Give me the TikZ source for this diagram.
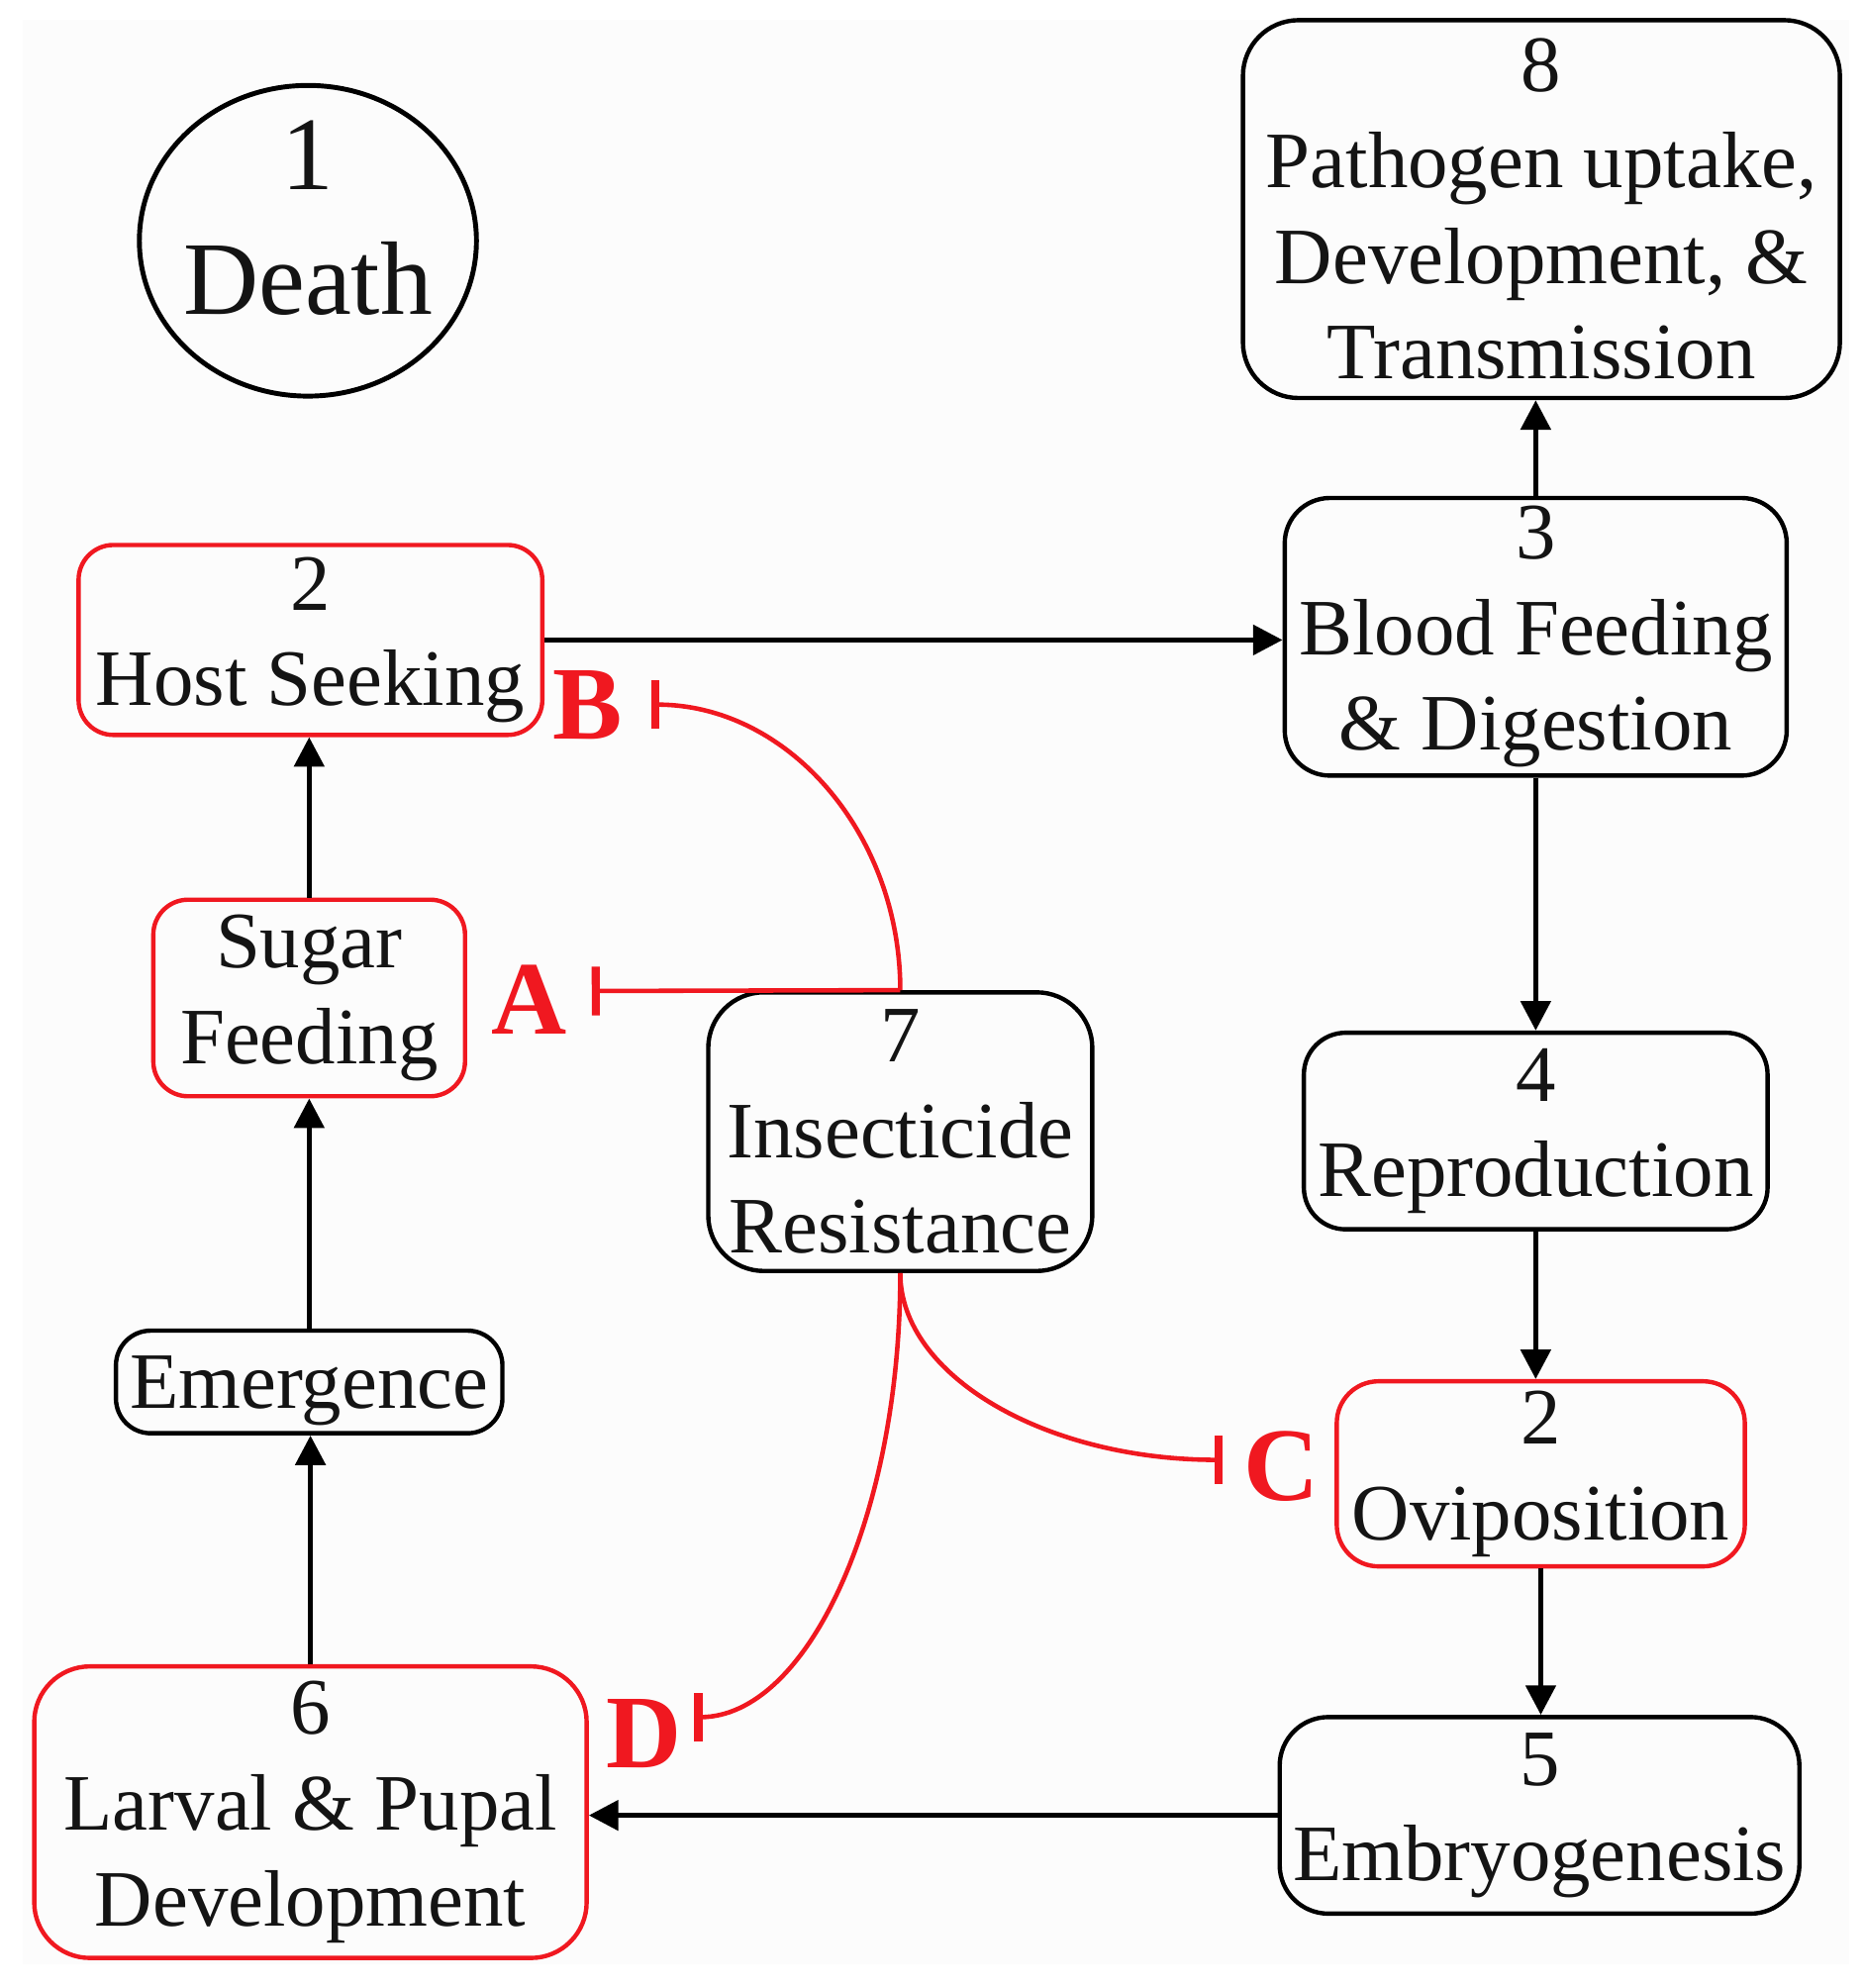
\documentclass[tikz,border=0pt]{standalone}
\usepackage{fontspec}
\setmainfont{Liberation Serif}
\usetikzlibrary{arrows.meta,shapes.geometric}
\definecolor{redc}{RGB}{240,24,32}
\definecolor{bgc}{RGB}{252,252,252}
\definecolor{txtc}{RGB}{20,20,20}
\newcommand\mainsz{\fontsize{23}{27.5}\selectfont}
\tikzset{
  box/.style={draw=black, line width=1.25pt, rounded corners=12pt, align=center, inner sep=0pt, font=\mainsz, text=txtc},
  redbox/.style={box, draw=redc, line width=1.25pt},
  flow/.style={line width=1.55pt, -{Triangle[length=8.5pt,width=8.5pt]}},
  inhib/.style={draw=redc, line width=1.3pt, -{Bar[width=14pt,line width=2.3pt]}},
  lab/.style={text=redc, inner sep=0pt, font=\bfseries\fontsize{30}{32}\selectfont}
}
\begin{document}
\begin{tikzpicture}[x=0.0128cm, y=-0.0128cm]
\useasboundingbox (0,0) rectangle (1470.3,1568.75);
\fill[white] (0,0) rectangle (1470.3,1568.75);
\fill[bgc] (18,16) rectangle (1459,1550);

% Death
\node[draw=black, line width=1.4pt, ellipse, minimum width=96.9pt, minimum height=89.3pt, inner sep=0pt] (death) at (243,190) {};
\node[align=center, text=txtc, font=\fontsize{30}{35.7}\selectfont, inner sep=0pt] (deathtxt) at (243,172) {1\\Death};

% boxes
\node[box, rounded corners=16pt, minimum width=171.6pt, minimum height=108.6pt] (b8) at (1216.5,165) {8\\Pathogen uptake,\\Development, \&\\Transmission};
\node[box, rounded corners=13pt, minimum width=144.3pt, minimum height=79.8pt] (b3) at (1212,502.5) {3\\Blood Feeding\\\& Digestion};
\node[redbox, rounded corners=10pt, minimum width=133.3pt, minimum height=54.6pt] (host) at (245,505) {2\\Host Seeking};
\node[redbox, rounded corners=10pt, minimum width=89.6pt, minimum height=56.5pt] (sugar) at (244,787.5) {Sugar\\Feeding};
\node[box, rounded corners=16pt, minimum width=110.4pt, minimum height=80.1pt] (ins) at (710.5,893) {7\\Insecticide\\Resistance};
\node[box, rounded corners=12pt, minimum width=133.3pt, minimum height=56.5pt] (b4) at (1212,892.5) {4\\Reproduction};
\node[redbox, rounded corners=12pt, minimum width=117.3pt, minimum height=53.2pt] (ovi) at (1216,1163) {2\\Oviposition};
\node[box, rounded corners=10pt, minimum width=111.1pt, minimum height=29.5pt, text depth=0pt] (emerg) at (244,1090.5) {Emergence};
\node[redbox, rounded corners=16pt, minimum width=158.8pt, minimum height=83.8pt] (b6) at (245,1430) {6\\Larval \& Pupal\\Development};
\node[box, rounded corners=14pt, minimum width=149.4pt, minimum height=56.5pt] (b5) at (1215,1432.5) {5\\Embryogenesis};

% flow arrows
\draw[flow] (host.east) -- (host.east -| b3.west);
\draw[flow] (b3.north) -- (b3.north |- b8.south);
\draw[flow] (b3.south) -- (b3.south |- b4.north);
\draw[flow] (b4.south) -- (b4.south |- ovi.north);
\draw[flow] (ovi.south) -- (ovi.south |- b5.north);
\draw[flow] (b5.west) -- (b5.west -| b6.east);
\draw[flow] (b6.north) -- (b6.north |- emerg.south);
\draw[flow] (emerg.north) -- (emerg.north |- sugar.south);
\draw[flow] (sugar.north) -- (sugar.north |- host.south);

% inhibition
\coordinate (aEnd) at (467,782);
\coordinate (bEnd) at (514,556);
\coordinate (cEnd) at (965,1152);
\coordinate (dEnd) at (548,1355);
\draw[inhib] (ins.north) -- (aEnd);
\draw[inhib] (ins.north) .. controls (710.5,658) and (622,556) .. (bEnd);
\draw[inhib] (ins.south) .. controls (710.5,1085) and (824,1152) .. (cEnd);
\draw[inhib] (ins.south) .. controls (710.5,1197) and (637,1355) .. (dEnd);

\node[lab] (la) at (418,789) {A};
\node[lab] (lb) at (464,556) {B};
\node[lab] (lc) at (1011,1157) {C};
\node[lab] (ld) at (508,1368) {D};
\end{tikzpicture}
\end{document}
